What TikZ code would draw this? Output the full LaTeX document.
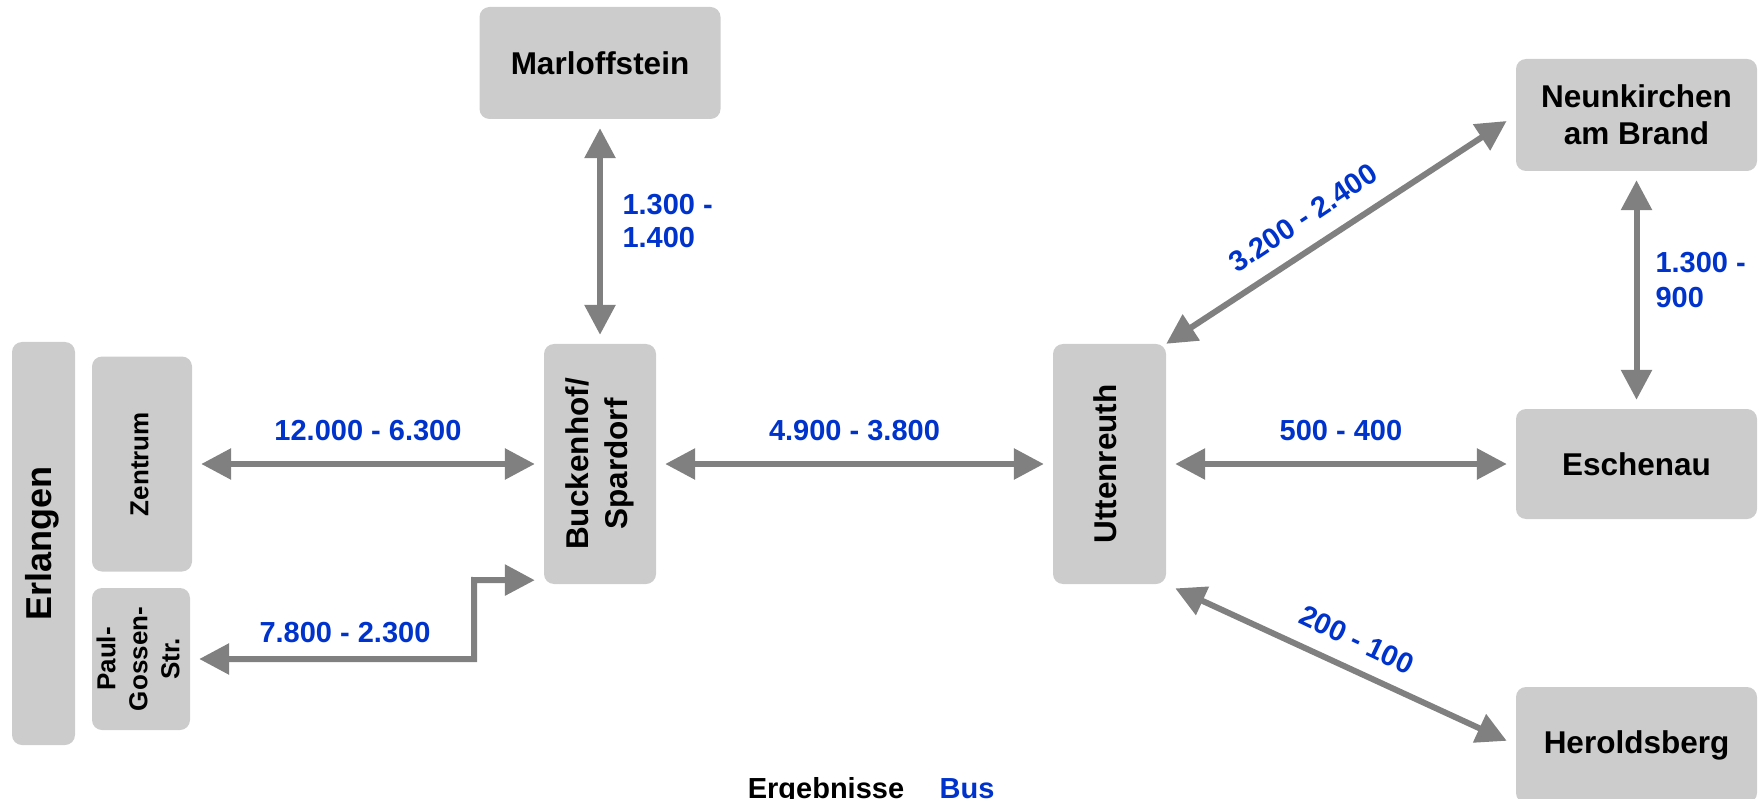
\documentclass[tikz,border=0pt]{standalone}
\usepackage{fontspec}
\setmainfont{Liberation Sans}
\usepackage{graphicx}
\usetikzlibrary{arrows.meta}

\definecolor{boxgray}{HTML}{CCCCCC}
\definecolor{flowgray}{HTML}{808080}
\definecolor{countblue}{HTML}{0033CC}

% text turned upright inside the narrow boxes
\newcommand{\sidetext}[1]{\rotatebox{90}{\begin{tabular}{@{}c@{}}#1\end{tabular}}}

\begin{document}
\begin{tikzpicture}[x=1pt, y=-1pt,
		place/.style={fill=boxgray, rounded corners=10pt, inner sep=0pt, align=center,
			font=\fontsize{31.5}{37}\selectfont\bfseries},
		flow/.style={draw=flowgray, line width=6pt,
			{Triangle[length=30pt,width=30pt]}-{Triangle[length=30pt,width=30pt]},
			shorten <=9pt, shorten >=9pt},
		count/.style={text=countblue, font=\fontsize{29}{33}\selectfont\bfseries}]
		\useasboundingbox (0,0) rectangle (1758,799);
		
		% Erlangen with its two stops
		\node[place, minimum width=63, minimum height=403, font=\fontsize{36}{40}\selectfont\bfseries] (erl) at (43.5,543.5) {\sidetext{Erlangen}};
		\node[place, minimum width=100, minimum height=215, font=\fontsize{26}{32}\selectfont\bfseries] (zent) at (142,464) {\sidetext{Zentrum}};
		\node[place, minimum width=98, minimum height=142, font=\fontsize{26}{32}\selectfont\bfseries] (paul) at (141,659) {\sidetext{Paul-\\Gossen-\\Str.}};
		
		% The other places
		\node[place, minimum width=241, minimum height=112] (marl) at (600,63) {Marloffstein};
		\node[place, minimum width=112, minimum height=240, font=\fontsize{31.5}{39}\selectfont\bfseries] (buck) at (600,464) {\sidetext{Buckenhof/\\Spardorf}};
		\node[place, minimum width=113, minimum height=240] (utt) at (1109.5,464) {\sidetext{Uttenreuth}};
		\node[place, minimum width=241, minimum height=112] (neun) at (1636.5,115) {Neunkirchen\\am Brand};
		\node[place, minimum width=241, minimum height=110] (esch) at (1636.5,464) {Eschenau};
		\node[place, minimum width=241, minimum height=116] (hero) at (1636.5,745) {Heroldsberg};
		
		% Flows around Buckenhof
		\draw[flow] (marl) -- (buck);
		\node[count, anchor=west, align=left] (lmarl) at (619,221) {1.300 -\\1.400};
		\draw[flow] (zent) -- (buck) node[count, midway, above=17pt] (lzent) {12.000 - 6.300};
		\coordinate (pgturn) at (474,580);
		\draw[flow] (paul.east) -| (pgturn) -- ([yshift=4pt]buck.south west);
		\node[count] (lpaul) at (345,633) {7.800 - 2.300};
		\draw[flow] (buck) -- (utt) node[count, midway, above=17pt] (lbuck) {4.900 - 3.800};
		
		% Flows around Uttenreuth
		\draw[flow] (utt) -- (esch) node[count, midway, above=17pt] (lesch) {500 - 400};
		\draw[flow, shorten <=0pt, shorten >=11pt] (utt.north east) -- (neun.west);
		\node[count, rotate=33.6] (lneun) at (1303,218) {3.200 - 2.400};
		\draw[flow, shorten <=10pt, shorten >=10pt] (utt.south east) -- (hero.west);
		\node[count, rotate=-25.2] (lhero) at (1357,640) {200 - 100};
		\draw[flow] (neun) -- (esch);
		\node[count, anchor=west, align=left, font=\fontsize{29}{35}\selectfont\bfseries] (lne) at (1652,280) {1.300 -\\900};
		
		% Legend
		\node[anchor=base, font=\fontsize{29}{33}\selectfont\bfseries] (legend) at (826,798) {Ergebnisse};
		\node[count, anchor=base] (legbus) at (967,798) {Bus};
		
	\end{tikzpicture}
\end{document}
